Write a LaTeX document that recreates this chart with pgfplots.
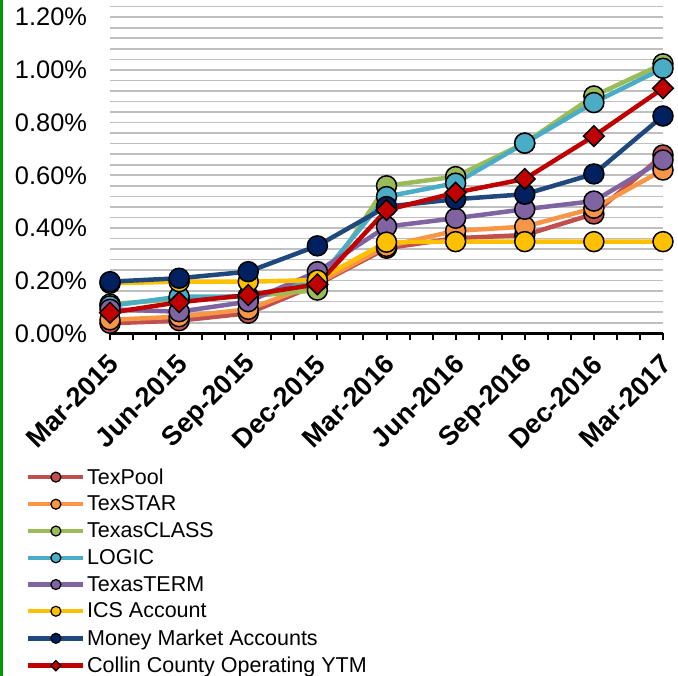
\documentclass[border=0pt]{standalone}
\usepackage{pgfplots}
\pgfplotsset{compat=1.18}
\usepackage{fontspec}
\setmainfont{Liberation Sans}
\definecolor{cPool}{HTML}{C0504D}
\definecolor{cStar}{HTML}{F79646}
\definecolor{cClass}{HTML}{9BBB59}
\definecolor{cLogic}{HTML}{4BACC6}
\definecolor{cTerm}{HTML}{8064A2}
\definecolor{cICS}{HTML}{FFC000}
\definecolor{cMMA}{HTML}{1F497D}
\definecolor{cMMAf}{HTML}{002060}
\definecolor{cCol}{HTML}{C00000}
\definecolor{gridc}{HTML}{BFBFBF}
\begin{document}
\begin{tikzpicture}[x=1pt,y=1pt]
\useasboundingbox (0,0) rectangle (678,676);
\fill[white] (0,0) rectangle (678,676);
\draw[green!60!black, line width=3pt] (1.5,0) -- (1.5,676);
\begin{axis}[
  at={(110pt,342.7pt)}, anchor=south west,
  scale only axis, width=553pt, height=326.6pt,
  xmin=0, xmax=24, ymin=0, ymax=1.24,
  axis x line*=bottom, axis y line*=left,
  y axis line style={draw=none},
  x axis line style={line width=2.5pt, black},
  xtick={0,3,6,9,12,15,18,21,24},
  xticklabels={Mar-2015,Jun-2015,Sep-2015,Dec-2015,Mar-2016,Jun-2016,Sep-2016,Dec-2016,Mar-2017},
  minor xtick={1,2,4,5,7,8,10,11,13,14,16,17,19,20,22,23},
  tick align=outside, xtick pos=bottom,
  x tick style={line width=2pt, black},
  major tick length=7pt, minor tick length=7pt,
  ytick={0,0.2,0.4,0.6,0.8,1.0,1.2},
  yticklabels={0.00\%,0.20\%,0.40\%,0.60\%,0.80\%,1.00\%,1.20\%},
  minor ytick={0.04,0.08,0.12,0.16,0.24,0.28,0.32,0.36,0.44,0.48,0.52,0.56,0.64,0.68,0.72,0.76,0.84,0.88,0.92,0.96,1.04,1.08,1.12,1.16,1.24},
  y tick style={draw=none},
  ymajorgrids, yminorgrids,
  major grid style={gridc, line width=1.6pt},
  minor grid style={gridc, line width=1.6pt},
  /pgf/number format/assume math mode=true,
  yticklabel style={font=\fontsize{25.4}{25.4}\selectfont, anchor=east, xshift=-12.5pt},
  xticklabel style={font=\bfseries\fontsize{27}{27}\selectfont, xshift=6pt, yshift=-17pt, rotate=45, anchor=east},
  clip=false,
  legend style={at={(-0.152,-0.409)}, anchor=north west, draw=none, fill=none,
    font=\fontsize{21.5}{21.5}\selectfont, inner sep=0pt, row sep=7.3pt,
    nodes={inner sep=1.5pt}},
  legend cell align=left,
  legend image code/.code={\draw[mark repeat=2,mark phase=2, every mark/.append style={scale=0.5, line width=1.2pt}] plot coordinates {(0pt,0pt) (27.5pt,0pt) (55pt,0pt)};},
  every axis plot/.append style={line width=4.5pt},
]
\addplot[cPool, mark=*, mark size=10pt, mark options={fill=cPool, draw=black, line width=1.5pt}] coordinates {(0,0.038) (3,0.048) (6,0.076) (9,0.185) (12,0.323) (15,0.361) (18,0.373) (21,0.453) (24,0.677)};
\addlegendentry{TexPool}
\addplot[cStar, mark=*, mark size=10pt, mark options={fill=cStar, draw=black, line width=1.5pt}] coordinates {(0,0.051) (3,0.063) (6,0.091) (9,0.190) (12,0.330) (15,0.389) (18,0.405) (21,0.475) (24,0.620)};
\addlegendentry{TexSTAR}
\addplot[cClass, mark=*, mark size=10pt, mark options={fill=cClass, draw=black, line width=1.5pt}] coordinates {(0,0.111) (3,0.130) (6,0.140) (9,0.164) (12,0.560) (15,0.595) (18,0.722) (21,0.901) (24,1.023)};
\addlegendentry{TexasCLASS}
\addplot[cLogic, mark=*, mark size=10pt, mark options={fill=cLogic, draw=black, line width=1.5pt}] coordinates {(0,0.104) (3,0.139) (6,0.140) (9,0.200) (12,0.519) (15,0.570) (18,0.722) (21,0.876) (24,1.006)};
\addlegendentry{LOGIC}
\addplot[cTerm, mark=*, mark size=10pt, mark options={fill=cTerm, draw=black, line width=1.5pt}] coordinates {(0,0.091) (3,0.082) (6,0.120) (9,0.234) (12,0.405) (15,0.437) (18,0.471) (21,0.502) (24,0.658)};
\addlegendentry{TexasTERM}
\addplot[cICS, mark=*, mark size=10pt, mark options={fill=cICS, draw=black, line width=1.5pt}] coordinates {(0,0.190) (3,0.196) (6,0.196) (9,0.202) (12,0.346) (15,0.348) (18,0.348) (21,0.348) (24,0.348)};
\addlegendentry{ICS Account}
\addplot[cMMA, mark=*, mark size=10pt, mark options={fill=cMMAf, draw=black, line width=1.5pt}] coordinates {(0,0.196) (3,0.209) (6,0.234) (9,0.332) (12,0.481) (15,0.509) (18,0.528) (21,0.605) (24,0.825)};
\addlegendentry{Money Market Accounts}
\addplot[cCol, mark=square*, mark size=7.3pt, mark options={rotate=45, fill=cCol, draw=black, line width=1.5pt}] coordinates {(0,0.078) (3,0.118) (6,0.145) (9,0.186) (12,0.468) (15,0.534) (18,0.586) (21,0.749) (24,0.930)};
\addlegendentry{Collin County Operating YTM}
\end{axis}
\end{tikzpicture}
\end{document}
